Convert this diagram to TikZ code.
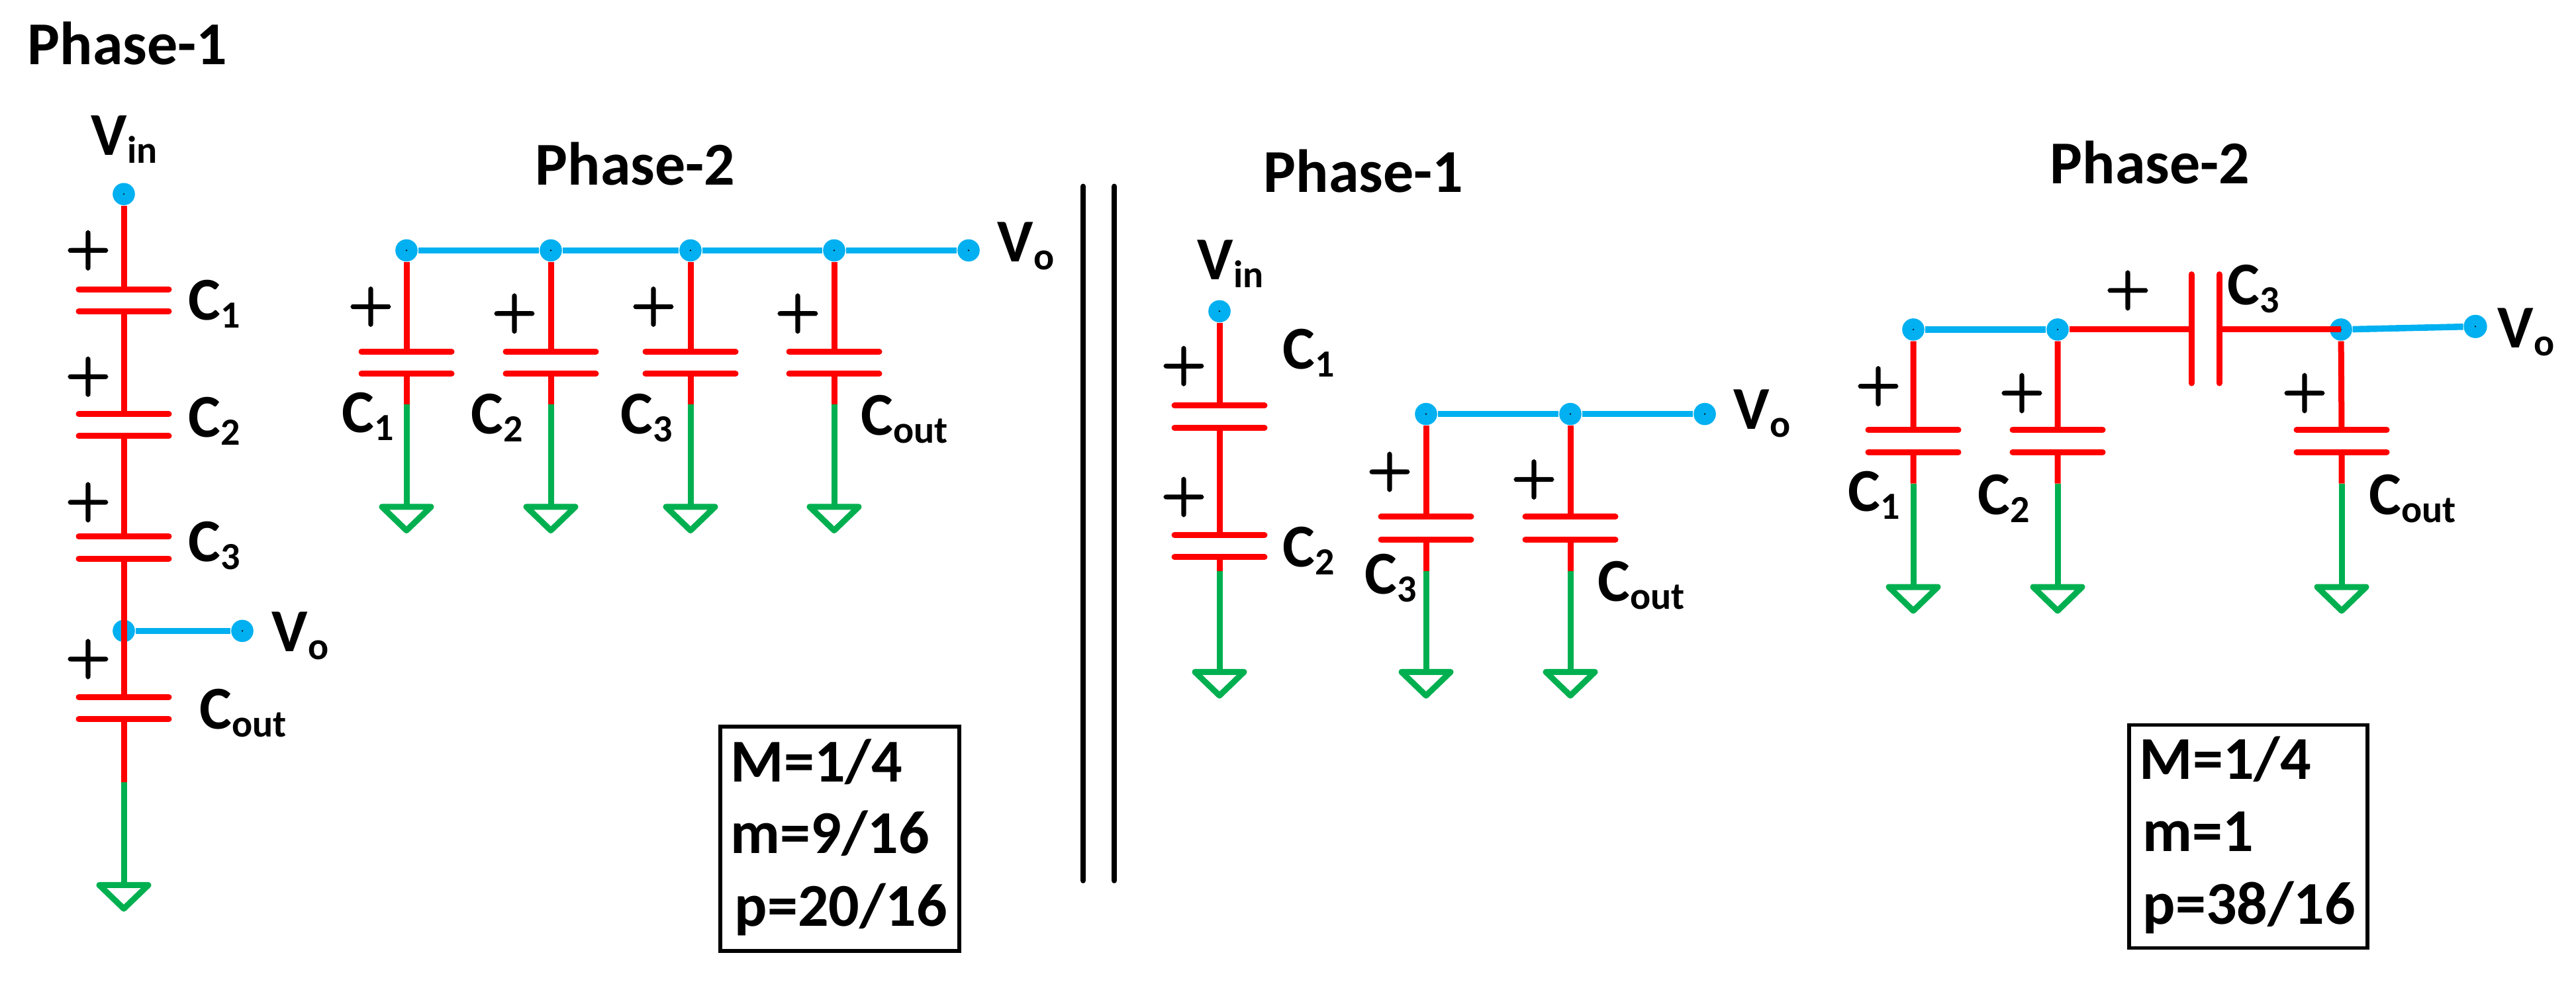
\documentclass[tikz,border=0pt]{standalone}
\usepackage{fontspec}
\usetikzlibrary{shapes.geometric}
\setmainfont{Carlito}
\newfontfamily\plusfont{Latin Modern Roman}[FakeBold=4.5]
\definecolor{wblue}{HTML}{00B0F0}
\definecolor{wred}{HTML}{FF0000}
\definecolor{wgreen}{HTML}{00B050}
\tikzset{
  x=0.25pt,y=-0.2875pt,
  redw/.style={draw=wred,line width=2.25pt},
  bluew/.style={draw=wblue,line width=2.4pt},
  greenw/.style={draw=wgreen,line width=2.25pt},
  plate/.style={draw=wred,line width=2.25pt,line cap=round},
  gndtri/.style={draw=wgreen,line width=2.25pt,line join=round},
  sepbar/.style={draw=black,line width=2.1pt,line cap=round},
  dotn/.style={circle,fill=wblue,inner sep=0pt,minimum size=8.4pt,
    path picture={\fill[black] (path picture bounding box.center) circle (0.3pt);}},
  lbl/.style={anchor=base west,inner sep=0pt,font=\fontsize{23}{27}\selectfont\bfseries,text=black},
  plusn/.style={inner sep=0pt,font=\fontsize{22.5}{26}\plusfont\selectfont,text=black},
  boxn/.style={draw=black,line width=1.4pt,inner sep=0pt},
}
\newcommand{\Sb}[2]{#1\raisebox{-3pt}{\fontsize{14.5}{16}\selectfont #2}}
% plates of a vertical capacitor: id, x, y top, y bottom
\newcommand{\vcapac}[4]{%
  \coordinate (#1a) at (#2,#3);\coordinate (#1b) at (#2,#4);
  \draw[plate] (#1a) ++(-68,0) -- ++(136,0);
  \draw[plate] (#1b) ++(-68,0) -- ++(136,0);}
% ground: id, x, y
\newcommand{\gnd}[3]{%
  \coordinate (#1) at (#2,#3);
  \draw[gndtri] (#1) ++(-37,0) -- ++(74,0) -- ++(-37,31) -- cycle;}
\begin{document}
\begin{tikzpicture}
\useasboundingbox[fill=white] (0,0) rectangle (3891,1300);

%% ---- Left: Phase-1
\node[lbl] (t1) at (41,85) {Phase-1};
\node[lbl] (a-vin) at (137,204) {\Sb{V}{in}};
\node[dotn] (a-d0) at (187,829) {};
\vcapac{a1}{187}{380}{409}
\vcapac{a2}{187}{544}{573}
\vcapac{a3}{187}{705}{734}
\vcapac{a4}{187}{916}{945}
\coordinate (a-rg) at (187,1028);
\gnd{a-g}{187}{1163}
\node[dotn] (a-in) at (187,255) {};
\draw[redw] (a-in) -- (a1a) (a1b) -- (a2a) (a2b) -- (a3a) (a3b) -- (a4a) (a4b) -- (a-rg);
\draw[greenw] (a-rg) -- (a-g);
\node[dotn] (a-out) at (366,829) {};
\draw[bluew] (a-d0) -- (a-out);
\node[plusn] (a-p1) at (133,329) {+};
\node[plusn] (a-p2) at (133,495) {+};
\node[plusn] (a-p3) at (133,660) {+};
\node[plusn] (a-p4) at (133,866) {+};
\node[lbl] (a-c1) at (284,420) {\Sb{C}{1}};
\node[lbl] (a-c2) at (284,574) {\Sb{C}{2}};
\node[lbl] (a-c3) at (284,738) {\Sb{C}{3}};
\node[lbl] (a-c4) at (301,958) {\Sb{C}{out}};
\node[lbl] (a-vo) at (410,856) {\Sb{V}{o}};

%% ---- Left: Phase-2
\node[lbl] (t2) at (808,243) {Phase-2};
\vcapac{b1}{614}{462}{491}
\vcapac{b2}{832}{462}{491}
\vcapac{b3}{1043}{462}{491}
\vcapac{b4}{1260}{462}{491}
\gnd{b1g}{614}{666}\gnd{b2g}{832}{666}\gnd{b3g}{1043}{666}\gnd{b4g}{1260}{666}
\coordinate (b1r) at (614,531);\coordinate (b2r) at (832,531);
\coordinate (b3r) at (1043,531);\coordinate (b4r) at (1260,531);
\node[dotn] (b1d) at (614,329) {};
\node[dotn] (b2d) at (832,329) {};
\node[dotn] (b3d) at (1043,329) {};
\node[dotn] (b4d) at (1260,329) {};
\node[dotn] (b5d) at (1463,329) {};
\draw[bluew] (b1d) -- (b2d) -- (b3d) -- (b4d) -- (b5d);
\draw[redw] (b1d) -- (b1a) (b1b) -- (b1r) (b2d) -- (b2a) (b2b) -- (b2r)
  (b3d) -- (b3a) (b3b) -- (b3r) (b4d) -- (b4a) (b4b) -- (b4r);
\draw[greenw] (b1r) -- (b1g) (b2r) -- (b2g) (b3r) -- (b3g) (b4r) -- (b4g);
\node[plusn] (b-p1) at (560,403) {+};
\node[plusn] (b-p2) at (777,412) {+};
\node[plusn] (b-p3) at (987,403) {+};
\node[plusn] (b-p4) at (1205,412) {+};
\node[lbl] (b-c1) at (516,568) {\Sb{C}{1}};
\node[lbl] (b-c2) at (711,570) {\Sb{C}{2}};
\node[lbl] (b-c3) at (937,570) {\Sb{C}{3}};
\node[lbl] (b-c4) at (1300,572) {\Sb{C}{out}};
\node[lbl] (b-vo) at (1506,344) {\Sb{V}{o}};
\node[boxn,minimum width=90.25pt,minimum height=84.75pt] (box1) at (1268.5,1102) {};
\node[lbl] (box1a) at (1103,1027) {M=1/4};
\node[lbl] (box1b) at (1103,1121) {m=9/16};
\node[lbl] (box1c) at (1109,1217) {p=20/16};

%% ---- Separator
\coordinate (s1t) at (1636,245);\coordinate (s1b) at (1636,1157);
\coordinate (s2t) at (1683,245);\coordinate (s2b) at (1683,1157);
\draw[sepbar] (s1t) -- (s1b);
\draw[sepbar] (s2t) -- (s2b);

%% ---- Right: Phase-1
\node[lbl] (t3) at (1908,253) {Phase-1};
\node[lbl] (c-vin) at (1808,367) {\Sb{V}{in}};
\vcapac{c1}{1842}{533}{562}
\vcapac{c2}{1842}{703}{732}
\vcapac{c3}{2154}{679}{709}
\vcapac{c4}{2372}{679}{709}
\coordinate (c2r) at (1842,750);\coordinate (c3r) at (2154,750);\coordinate (c4r) at (2372,750);
\gnd{c2g}{1842}{883}\gnd{c3g}{2154}{883}\gnd{c4g}{2372}{883}
\node[dotn] (c-in) at (1842,409) {};
\node[dotn] (c3d) at (2154,544) {};
\node[dotn] (c4d) at (2372,544) {};
\node[dotn] (c5d) at (2575,544) {};
\draw[bluew] (c3d) -- (c4d) -- (c5d);
\draw[redw] (c-in) -- (c1a) (c1b) -- (c2a) (c2b) -- (c2r)
  (c3d) -- (c3a) (c3b) -- (c3r) (c4d) -- (c4a) (c4b) -- (c4r);
\draw[greenw] (c2r) -- (c2g) (c3r) -- (c3g) (c4r) -- (c4g);
\node[plusn] (c-p1) at (1788,481) {+};
\node[plusn] (c-p2) at (1788,653) {+};
\node[plusn] (c-p3) at (2099,620) {+};
\node[plusn] (c-p4) at (2317,630) {+};
\node[lbl] (c-c1) at (1937,485) {\Sb{C}{1}};
\node[lbl] (c-c2) at (1937,745) {\Sb{C}{2}};
\node[lbl] (c-c3) at (2061,780) {\Sb{C}{3}};
\node[lbl] (c-c4) at (2413,790) {\Sb{C}{out}};

%% ---- Right: Phase-2
\begin{scope}[y=-0.2895pt]
\node[lbl] (c-vo) at (2618,560) {\Sb{V}{o}};
\node[lbl] (t4) at (3096,240) {Phase-2};
\vcapac{d1}{2890}{561}{590}
\vcapac{d2}{3108}{561}{590}
\vcapac{d4}{3537}{561}{590}
\coordinate (d1r) at (2890,631);\coordinate (d2r) at (3108,631);\coordinate (d4r) at (3537,631);
\gnd{d1g}{2890}{766}\gnd{d2g}{3108}{766}\gnd{d4g}{3537}{766}
\coordinate (d3a) at (3310,430);\coordinate (d3b) at (3352,430);
\coordinate (d3at) at (3310,358);\coordinate (d3ab) at (3310,500);
\coordinate (d3bt) at (3352,358);\coordinate (d3bb) at (3352,500);
\draw[plate] (d3at) -- (d3ab);
\draw[plate] (d3bt) -- (d3bb);
\node[dotn] (d1d) at (2890,430) {};
\node[dotn] (d2d) at (3108,430) {};
\node[dotn] (d4d) at (3536,430) {};
\node[dotn,minimum size=8.8pt] (d5d) at (3739,426) {};
\draw[bluew] (d1d) -- (d2d);
\draw[bluew] (d4d) -- (d5d);
\draw[redw] (d2d) -- (d3a) (d3b) -- (d4d.center);
\draw[redw] (d1d) -- (d1a) (d1b) -- (d1r) (d2d) -- (d2a) (d2b) -- (d2r)
  (d4d) -- (d4a) (d4b) -- (d4r);
\draw[greenw] (d1r) -- (d1g) (d2r) -- (d2g) (d4r) -- (d4g);
\node[plusn] (d-p1) at (2837,504) {+};
\node[plusn] (d-p2) at (3054,513) {+};
\node[plusn] (d-p3) at (3214,379) {+};
\node[plusn] (d-p4) at (3481,513) {+};
\node[lbl] (d-c1) at (2791,667) {\Sb{C}{1}};
\node[lbl] (d-c2) at (2987,671) {\Sb{C}{2}};
\node[lbl] (d-c3) at (3364,398) {\Sb{C}{3}};
\node[lbl] (d-c4) at (3578,671) {\Sb{C}{out}};
\node[lbl] (d-vo) at (3772,454) {\Sb{V}{o}};
\node[boxn,minimum width=90pt,minimum height=84.25pt] (box2) at (3396,1091.5) {};
\node[lbl] (box2a) at (3231,1017) {M=1/4};
\node[lbl] (box2b) at (3236,1111) {m=1};
\node[lbl] (box2c) at (3236,1206) {p=38/16};
\end{scope}
\end{tikzpicture}
\end{document}
